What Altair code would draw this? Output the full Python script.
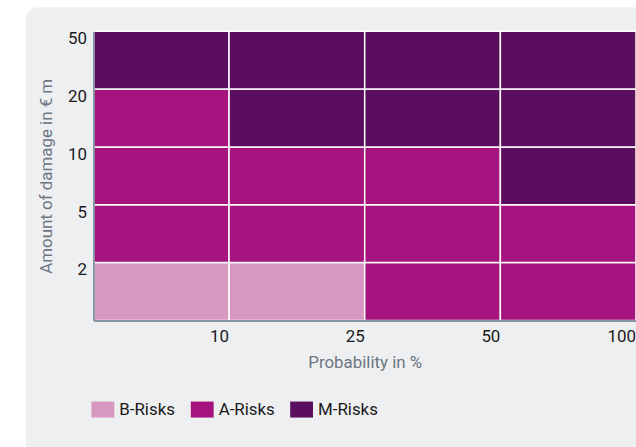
import altair as alt
import pandas as pd

# --- data ---
prob_labels = ["10", "25", "50", "100"]           # Probability in %
damage_labels = ["2", "5", "10", "20", "50"]      # Amount of damage in € m (bottom -> top)
risk_order = ["B-Risks", "A-Risks", "M-Risks"]
risk_colors = ["#d698c0", "#a5147e", "#5c0e5e"]
# risk class per damage row (bottom -> top), per probability column
risk_grid = [
    ["B-Risks", "B-Risks", "A-Risks", "A-Risks"],   # 2
    ["A-Risks", "A-Risks", "A-Risks", "A-Risks"],   # 5
    ["A-Risks", "A-Risks", "A-Risks", "M-Risks"],   # 10
    ["A-Risks", "M-Risks", "M-Risks", "M-Risks"],   # 20
    ["M-Risks", "M-Risks", "M-Risks", "M-Risks"],   # 50
]

rows = []
for ri, dmg in enumerate(damage_labels):
    for ci, prob in enumerate(prob_labels):
        rows.append({"prob": prob, "damage": dmg, "risk": risk_grid[ri][ci]})
df = pd.DataFrame(rows)

W, H = 546, 291
FONT = "Roboto"
FS = 17

panel = alt.Chart(pd.DataFrame({"a": [0]})).mark_rect(
    color="#eeeff1", cornerRadius=12
).encode(
    x=alt.value(-68), x2=alt.value(W + 40), y=alt.value(-24), y2=alt.value(H + 135)
)

heat = alt.Chart(df).mark_rect(stroke="white", strokeWidth=1.5).encode(
    x=alt.X("prob:O", sort=prob_labels,
            scale=alt.Scale(paddingInner=0, paddingOuter=0),
            axis=alt.Axis(title="Probability in %", labelAngle=0, labelAlign="right",
                          labelOffset=W / 8, labelPadding=8, ticks=False,
                          domainColor="#8796a5", domainWidth=2,
                          titlePadding=10)),
    y=alt.Y("damage:O", sort=list(reversed(damage_labels)),
            scale=alt.Scale(paddingInner=0, paddingOuter=0),
            axis=alt.Axis(title="Amount of damage in € m", labelBaseline="top",
                          labelOffset=-H / 10, labelPadding=7, ticks=False,
                          domainColor="#8796a5", domainWidth=2,
                          titlePadding=12)),
    color=alt.Color("risk:N", sort=risk_order,
                    scale=alt.Scale(domain=risk_order, range=risk_colors),
                    legend=alt.Legend(title=None, orient="none", direction="horizontal",
                                      legendX=-2, legendY=369,
                                      symbolType="M-1,-0.7H1V0.7H-1Z", symbolSize=529,
                                      symbolStrokeWidth=0, columnPadding=15,
                                      labelOffset=5, labelFontSize=FS,
                                      labelColor="#1a1a1a", labelFont=FONT)),
)

chart = alt.layer(panel, heat).properties(
    width=W, height=H,
    autosize=alt.AutoSizeParams(type="none"),
    padding={"left": 94, "top": 30, "right": 0, "bottom": 126},
    background="white",
).configure_view(stroke=None).configure_axis(
    labelFont=FONT, labelFontSize=FS, labelColor="#1a1a1a",
    titleFont=FONT, titleFontSize=FS, titleColor="#6b7682", titleFontWeight="normal",
    grid=False,
)

chart.save("out.html", embed_options={"renderer": "svg", "actions": False})
